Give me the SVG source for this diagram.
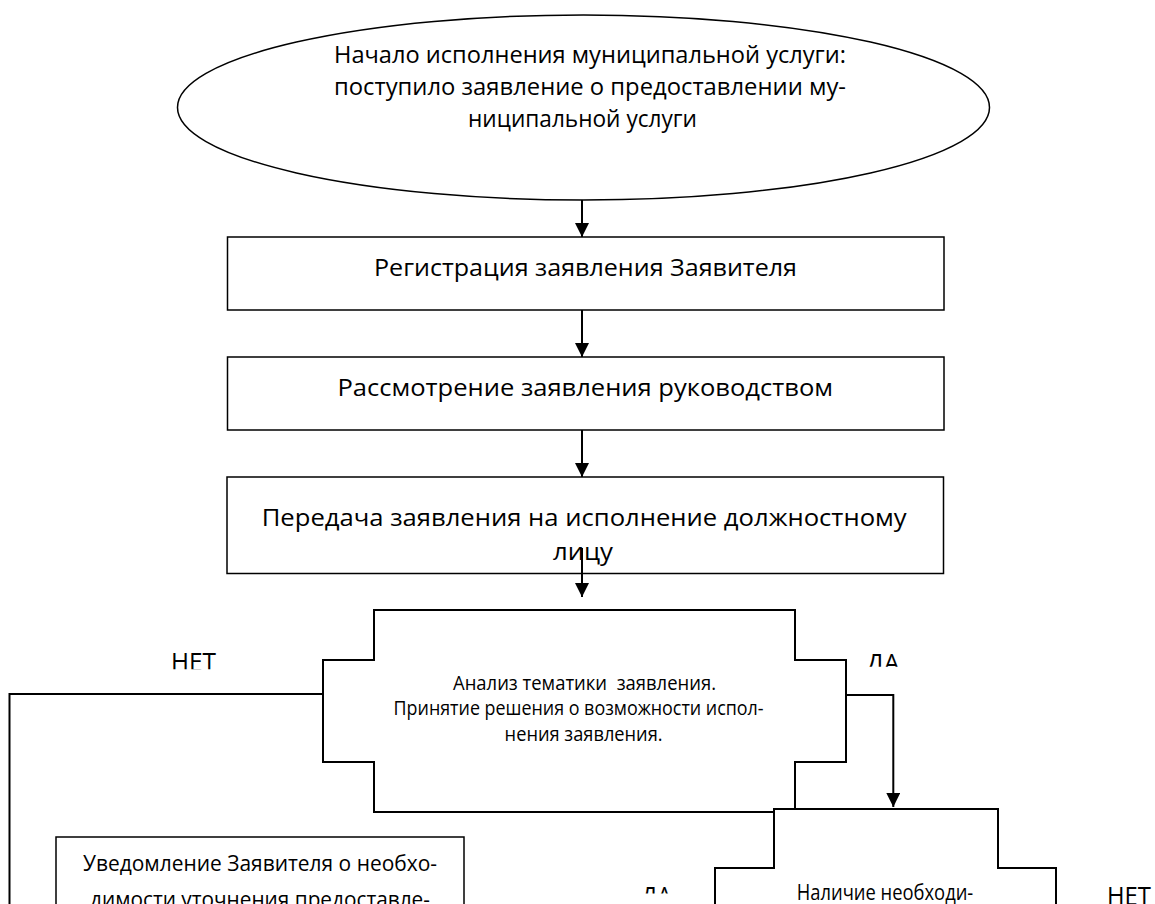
<svg xmlns="http://www.w3.org/2000/svg" width="1155" height="904" viewBox="0 0 1155 904">
<style>
.shape{fill:#fff;stroke:#000;stroke-width:1.5}
.step{fill:#fff;stroke:#000;stroke-width:2}
.conn{fill:none;stroke:#000;stroke-width:2}
.t{font-family:"Open Sans","Noto Sans","Liberation Sans",sans-serif;fill:#000}
.big{font-size:23.5px}
.mid{font-size:21px}
.sm{font-size:19.5px}
.lbl{font-size:25px}
</style>
<defs>
<marker id="arr" markerUnits="userSpaceOnUse" markerWidth="15" markerHeight="15" refX="14" refY="7" orient="auto">
<path d="M0,0 L14,7 L0,14 Z" fill="#000"/>
</marker>
<clipPath id="clipNo1"><rect x="150" y="640" width="100" height="29.3"/></clipPath>
<clipPath id="clipYes1"><rect x="850" y="640" width="80" height="26.7"/></clipPath>
<clipPath id="clipYes2"><rect x="620" y="870" width="80" height="23.5"/></clipPath>
</defs>

<g id="start">
<ellipse class="shape" cx="583.5" cy="107.5" rx="406" ry="92.5"/>
<text class="t big" x="334" y="63.3" textLength="512" lengthAdjust="spacingAndGlyphs">Начало исполнения муниципальной услуги:</text>
<text class="t big" x="334" y="95" textLength="512" lengthAdjust="spacingAndGlyphs">поступило заявление о предоставлении му-</text>
<text class="t big" x="468" y="126.7" textLength="229" lengthAdjust="spacingAndGlyphs">ниципальной услуги</text>
</g>

<g id="registration">
<rect class="shape" x="227.5" y="237" width="716.5" height="73"/>
<text class="t big" x="374" y="276" textLength="423" lengthAdjust="spacingAndGlyphs">Регистрация заявления Заявителя</text>
</g>

<g id="review">
<rect class="shape" x="227.5" y="357" width="716.5" height="73"/>
<text class="t big" x="337.5" y="396" textLength="495.5" lengthAdjust="spacingAndGlyphs">Рассмотрение заявления руководством</text>
</g>

<g id="transfer">
<rect class="shape" x="227" y="477" width="716.5" height="96.5"/>
<text class="t big" x="261.7" y="525.5" textLength="645" lengthAdjust="spacingAndGlyphs">Передача заявления на исполнение должностному</text>
<text class="t big" x="553" y="560" textLength="60" lengthAdjust="spacingAndGlyphs">лицу</text>
</g>

<g id="analysis">
<path class="step" d="M374,610 H795 V660 H846 V762 H795 V812 H374 V762 H323 V660 H374 Z"/>
<text class="t sm" x="453" y="690" textLength="263" lengthAdjust="spacingAndGlyphs" xml:space="preserve">Анализ тематики  заявления.</text>
<text class="t sm" x="393.6" y="715" textLength="370" lengthAdjust="spacingAndGlyphs">Принятие решения о возможности испол-</text>
<text class="t sm" x="504.6" y="741" textLength="158" lengthAdjust="spacingAndGlyphs">нения заявления.</text>
</g>

<g id="availability">
<path class="step" d="M715,912 V868 H774 V809 H998 V868 H1056 V912"/>
<text class="t mid" x="796.7" y="900" textLength="176.6" lengthAdjust="spacingAndGlyphs">Наличие необходи-</text>
</g>

<g id="notify">
<rect class="shape" x="56" y="837" width="408" height="80"/>
<text class="t mid" x="83" y="871" textLength="354" lengthAdjust="spacingAndGlyphs">Уведомление Заявителя о необхо-</text>
<text class="t mid" x="90" y="907" textLength="340" lengthAdjust="spacingAndGlyphs">димости уточнения предоставле-</text>
</g>

<g id="connectors">
<line class="conn" x1="582" y1="200" x2="582" y2="237" marker-end="url(#arr)"/>
<line class="conn" x1="582" y1="310" x2="582" y2="357" marker-end="url(#arr)"/>
<line class="conn" x1="582" y1="430" x2="582" y2="477" marker-end="url(#arr)"/>
<line class="conn" x1="582" y1="548" x2="582" y2="597" marker-end="url(#arr)"/>
<polyline class="conn" points="846,695 893.3,695 893.3,807" marker-end="url(#arr)"/>
<polyline class="conn" points="323,694 9.5,694 9.5,912"/>
</g>

<g id="labels">
<text class="t lbl" x="171" y="671" textLength="45" lengthAdjust="spacingAndGlyphs" clip-path="url(#clipNo1)">НЕТ</text>
<text class="t lbl" x="866.5" y="672" textLength="33" lengthAdjust="spacingAndGlyphs" clip-path="url(#clipYes1)">ДА</text>
<text class="t lbl" x="641" y="905" textLength="31" lengthAdjust="spacingAndGlyphs" clip-path="url(#clipYes2)">ДА</text>
<text class="t lbl" x="1107" y="904.5" textLength="44" lengthAdjust="spacingAndGlyphs">НЕТ</text>
</g>
</svg>
